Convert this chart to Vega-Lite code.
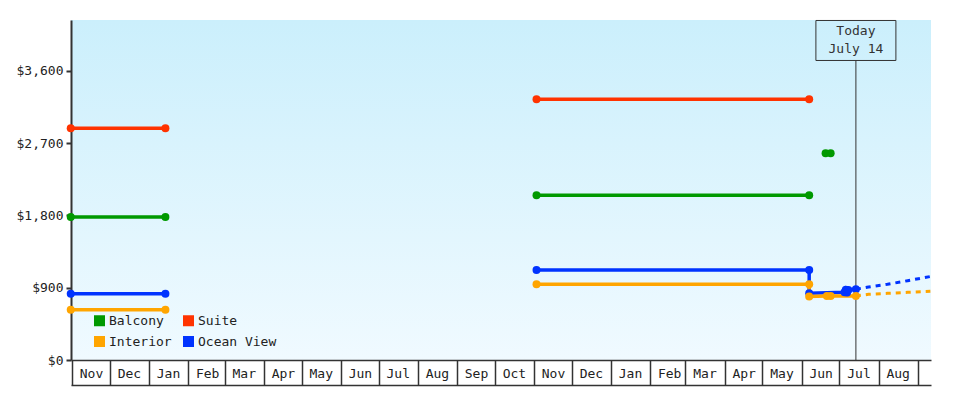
{
  "$schema": "https://vega.github.io/schema/vega-lite/v6.json",
  "width": 860,
  "height": 340,
  "autosize": "none",
  "padding": {"left": 71, "top": 20, "right": 49, "bottom": 40},
  "background": "white",
  "config": {
    "font": "DejaVu Sans Mono",
    "view": {
      "stroke": null,
      "fill": {
        "gradient": "linear", "x1": 0, "y1": 0, "x2": 0, "y2": 1,
        "stops": [{"offset": 0, "color": "#cbeffc"}, {"offset": 1, "color": "#f0faff"}]
      }
    }
  },
  "datasets": {
    "prices": [
      {"series": "Suite", "seg": "S1", "kind": "observed", "date": "2023-10-31", "price": 2886},
      {"series": "Suite", "seg": "S1", "kind": "observed", "date": "2024-01-14", "price": 2886},
      {"series": "Balcony", "seg": "B1", "kind": "observed", "date": "2023-10-31", "price": 1781},
      {"series": "Balcony", "seg": "B1", "kind": "observed", "date": "2024-01-14", "price": 1781},
      {"series": "Ocean View", "seg": "O1", "kind": "observed", "date": "2023-10-31", "price": 826},
      {"series": "Ocean View", "seg": "O1", "kind": "observed", "date": "2024-01-14", "price": 826},
      {"series": "Interior", "seg": "I1", "kind": "observed", "date": "2023-10-31", "price": 627},
      {"series": "Interior", "seg": "I1", "kind": "observed", "date": "2024-01-14", "price": 627},
      {"series": "Suite", "seg": "S2", "kind": "observed", "date": "2024-11-03", "price": 3247},
      {"series": "Suite", "seg": "S2", "kind": "observed", "date": "2025-06-07", "price": 3247},
      {"series": "Balcony", "seg": "B2", "kind": "observed", "date": "2024-11-03", "price": 2051},
      {"series": "Balcony", "seg": "B2", "kind": "observed", "date": "2025-06-07", "price": 2051},
      {"series": "Balcony", "seg": "B3", "kind": "observed", "date": "2025-06-20", "price": 2575},
      {"series": "Balcony", "seg": "B3", "kind": "observed", "date": "2025-06-24", "price": 2575},
      {"series": "Ocean View", "seg": "O2", "kind": "observed", "date": "2024-11-03", "price": 1120},
      {"series": "Ocean View", "seg": "O2", "kind": "observed", "date": "2025-06-07", "price": 1120},
      {"series": "Ocean View", "seg": "O2", "kind": "observed", "date": "2025-06-07", "price": 831},
      {"series": "Ocean View", "seg": "O2", "kind": "observed", "date": "2025-07-05", "price": 845},
      {"series": "Ocean View", "seg": "O2", "kind": "observed", "date": "2025-07-06", "price": 876},
      {"series": "Ocean View", "seg": "O2", "kind": "observed", "date": "2025-07-07", "price": 840},
      {"series": "Ocean View", "seg": "O2", "kind": "observed", "date": "2025-07-08", "price": 872},
      {"series": "Ocean View", "seg": "O2", "kind": "observed", "date": "2025-07-14", "price": 881},
      {"series": "Interior", "seg": "I2", "kind": "observed", "date": "2024-11-03", "price": 943},
      {"series": "Interior", "seg": "I2", "kind": "observed", "date": "2025-06-07", "price": 943},
      {"series": "Interior", "seg": "I2", "kind": "observed", "date": "2025-06-07", "price": 791},
      {"series": "Interior", "seg": "I2", "kind": "observed", "date": "2025-06-21", "price": 796},
      {"series": "Interior", "seg": "I2", "kind": "observed", "date": "2025-06-24", "price": 796},
      {"series": "Interior", "seg": "I2", "kind": "observed", "date": "2025-07-14", "price": 797},
      {"series": "Ocean View", "seg": "OF", "kind": "forecast", "date": "2025-07-14", "price": 881},
      {"series": "Ocean View", "seg": "OF", "kind": "forecast", "date": "2025-07-24", "price": 909},
      {"series": "Ocean View", "seg": "OF", "kind": "forecast", "date": "2025-08-08", "price": 943},
      {"series": "Ocean View", "seg": "OF", "kind": "forecast", "date": "2025-08-24", "price": 988},
      {"series": "Ocean View", "seg": "OF", "kind": "forecast", "date": "2025-09-11", "price": 1040},
      {"series": "Interior", "seg": "IF", "kind": "forecast", "date": "2025-07-14", "price": 797},
      {"series": "Interior", "seg": "IF", "kind": "forecast", "date": "2025-07-24", "price": 818},
      {"series": "Interior", "seg": "IF", "kind": "forecast", "date": "2025-08-08", "price": 831},
      {"series": "Interior", "seg": "IF", "kind": "forecast", "date": "2025-08-24", "price": 843},
      {"series": "Interior", "seg": "IF", "kind": "forecast", "date": "2025-09-11", "price": 856}
    ],
    "today": [{"event": "Today", "date": "2025-07-14"}]
  },
  "resolve": {"axis": {"x": "independent"}},
  "layer": [
    {
      "data": {"name": "today"},
      "mark": {"type": "rule", "color": "#333", "strokeWidth": 1},
      "encoding": {
        "x": {
          "field": "date", "type": "temporal",
          "axis": {"orient": "bottom", "offset": 25, "domain": true, "domainColor": "#333", "domainWidth": 1.5, "ticks": false, "labels": false, "grid": false, "title": null}
        },
        "y": {
          "datum": 0, "type": "quantitative",
          "scale": {"domain": [0, 4235], "nice": false, "zero": true},
          "axis": {
            "title": null, "values": [0, 900, 1800, 2700, 3600], "format": "$,d", "grid": false,
            "domainColor": "#333", "domainWidth": 2, "tickColor": "#333", "tickWidth": 2, "tickSize": 5,
            "labelPadding": 3, "labelFontSize": 13, "labelColor": "#222"
          }
        },
        "y2": {"datum": 3733}
      }
    },
    {
      "data": {"name": "today"},
      "mark": {"type": "point", "shape": "M-1,-0.5H1V0.5H-1Z", "size": 6400, "filled": false, "stroke": "#333", "strokeWidth": 1, "opacity": 1},
      "encoding": {
        "x": {"field": "date", "type": "temporal", "axis": null},
        "y": {"datum": 3980, "type": "quantitative"}
      }
    },
    {
      "data": {"name": "today"},
      "mark": {"type": "text", "align": "center", "baseline": "middle", "dy": -9, "fontSize": 13, "lineHeight": 18, "color": "#333"},
      "encoding": {
        "x": {"field": "date", "type": "temporal", "axis": null},
        "y": {"datum": 3980, "type": "quantitative"},
        "text": {"value": ["Today", "July 14"]}
      }
    },
    {
      "data": {"name": "prices"},
      "transform": [{"filter": "datum.kind === 'observed'"}],
      "mark": {"type": "line", "strokeWidth": 3.5},
      "encoding": {
        "x": {
          "field": "date", "type": "temporal",
          "scale": {"type": "utc", "domain": [
            {"year": 2023, "month": 10, "date": 31, "hours": 5, "utc": true},
            {"year": 2025, "month": 9, "date": 11, "hours": 12, "utc": true}
          ]},
          "axis": {
            "orient": "bottom", "title": null, "format": "%b",
            "tickCount": {"interval": "month", "step": 1},
            "grid": false, "domain": true, "domainColor": "#333", "domainWidth": 1.5,
            "ticks": true, "tickSize": 25, "tickColor": "#333", "tickWidth": 1.5,
            "labelAlign": "center", "labelBaseline": "middle", "labelOffset": 19, "labelPadding": -11.5,
            "labelFlush": false, "labelOverlap": false, "labelFontSize": 13, "labelColor": "#222",
            "labelExpr": "utcyear(datum.value) == 2025 && utcmonth(datum.value) == 8 ? '' : datum.label"
          }
        },
        "y": {"field": "price", "type": "quantitative"},
        "color": {
          "field": "series", "type": "nominal",
          "scale": {"domain": ["Balcony", "Suite", "Interior", "Ocean View"], "range": ["#009900", "#ff3300", "#ffa500", "#0033ff"]},
          "legend": {
            "title": null, "orient": "none", "legendX": 22, "legendY": 294, "columns": 2, "direction": "horizontal",
            "symbolType": "square", "symbolSize": 121, "symbolStrokeWidth": 0, "symbolOpacity": 1,
            "symbolFillColor": null,
            "labelFontSize": 13, "labelColor": "#222", "labelOffset": 3,
            "rowPadding": 7, "columnPadding": 10, "padding": 0
          }
        },
        "detail": {"field": "seg"},
        "order": {"value": null}
      }
    },
    {
      "data": {"name": "prices"},
      "transform": [{"filter": "datum.kind === 'forecast'"}],
      "mark": {"type": "line", "strokeWidth": 3, "strokeDash": [5, 5]},
      "encoding": {
        "x": {"field": "date", "type": "temporal", "axis": null},
        "y": {"field": "price", "type": "quantitative"},
        "color": {"field": "series", "type": "nominal"},
        "detail": {"field": "seg"},
        "order": {"value": null}
      }
    },
    {
      "data": {"name": "prices"},
      "transform": [{"filter": "datum.kind === 'observed'"}],
      "mark": {"type": "circle", "size": 64, "opacity": 1},
      "encoding": {
        "x": {"field": "date", "type": "temporal", "axis": null},
        "y": {"field": "price", "type": "quantitative"},
        "color": {"field": "series", "type": "nominal"}
      }
    }
  ]
}
